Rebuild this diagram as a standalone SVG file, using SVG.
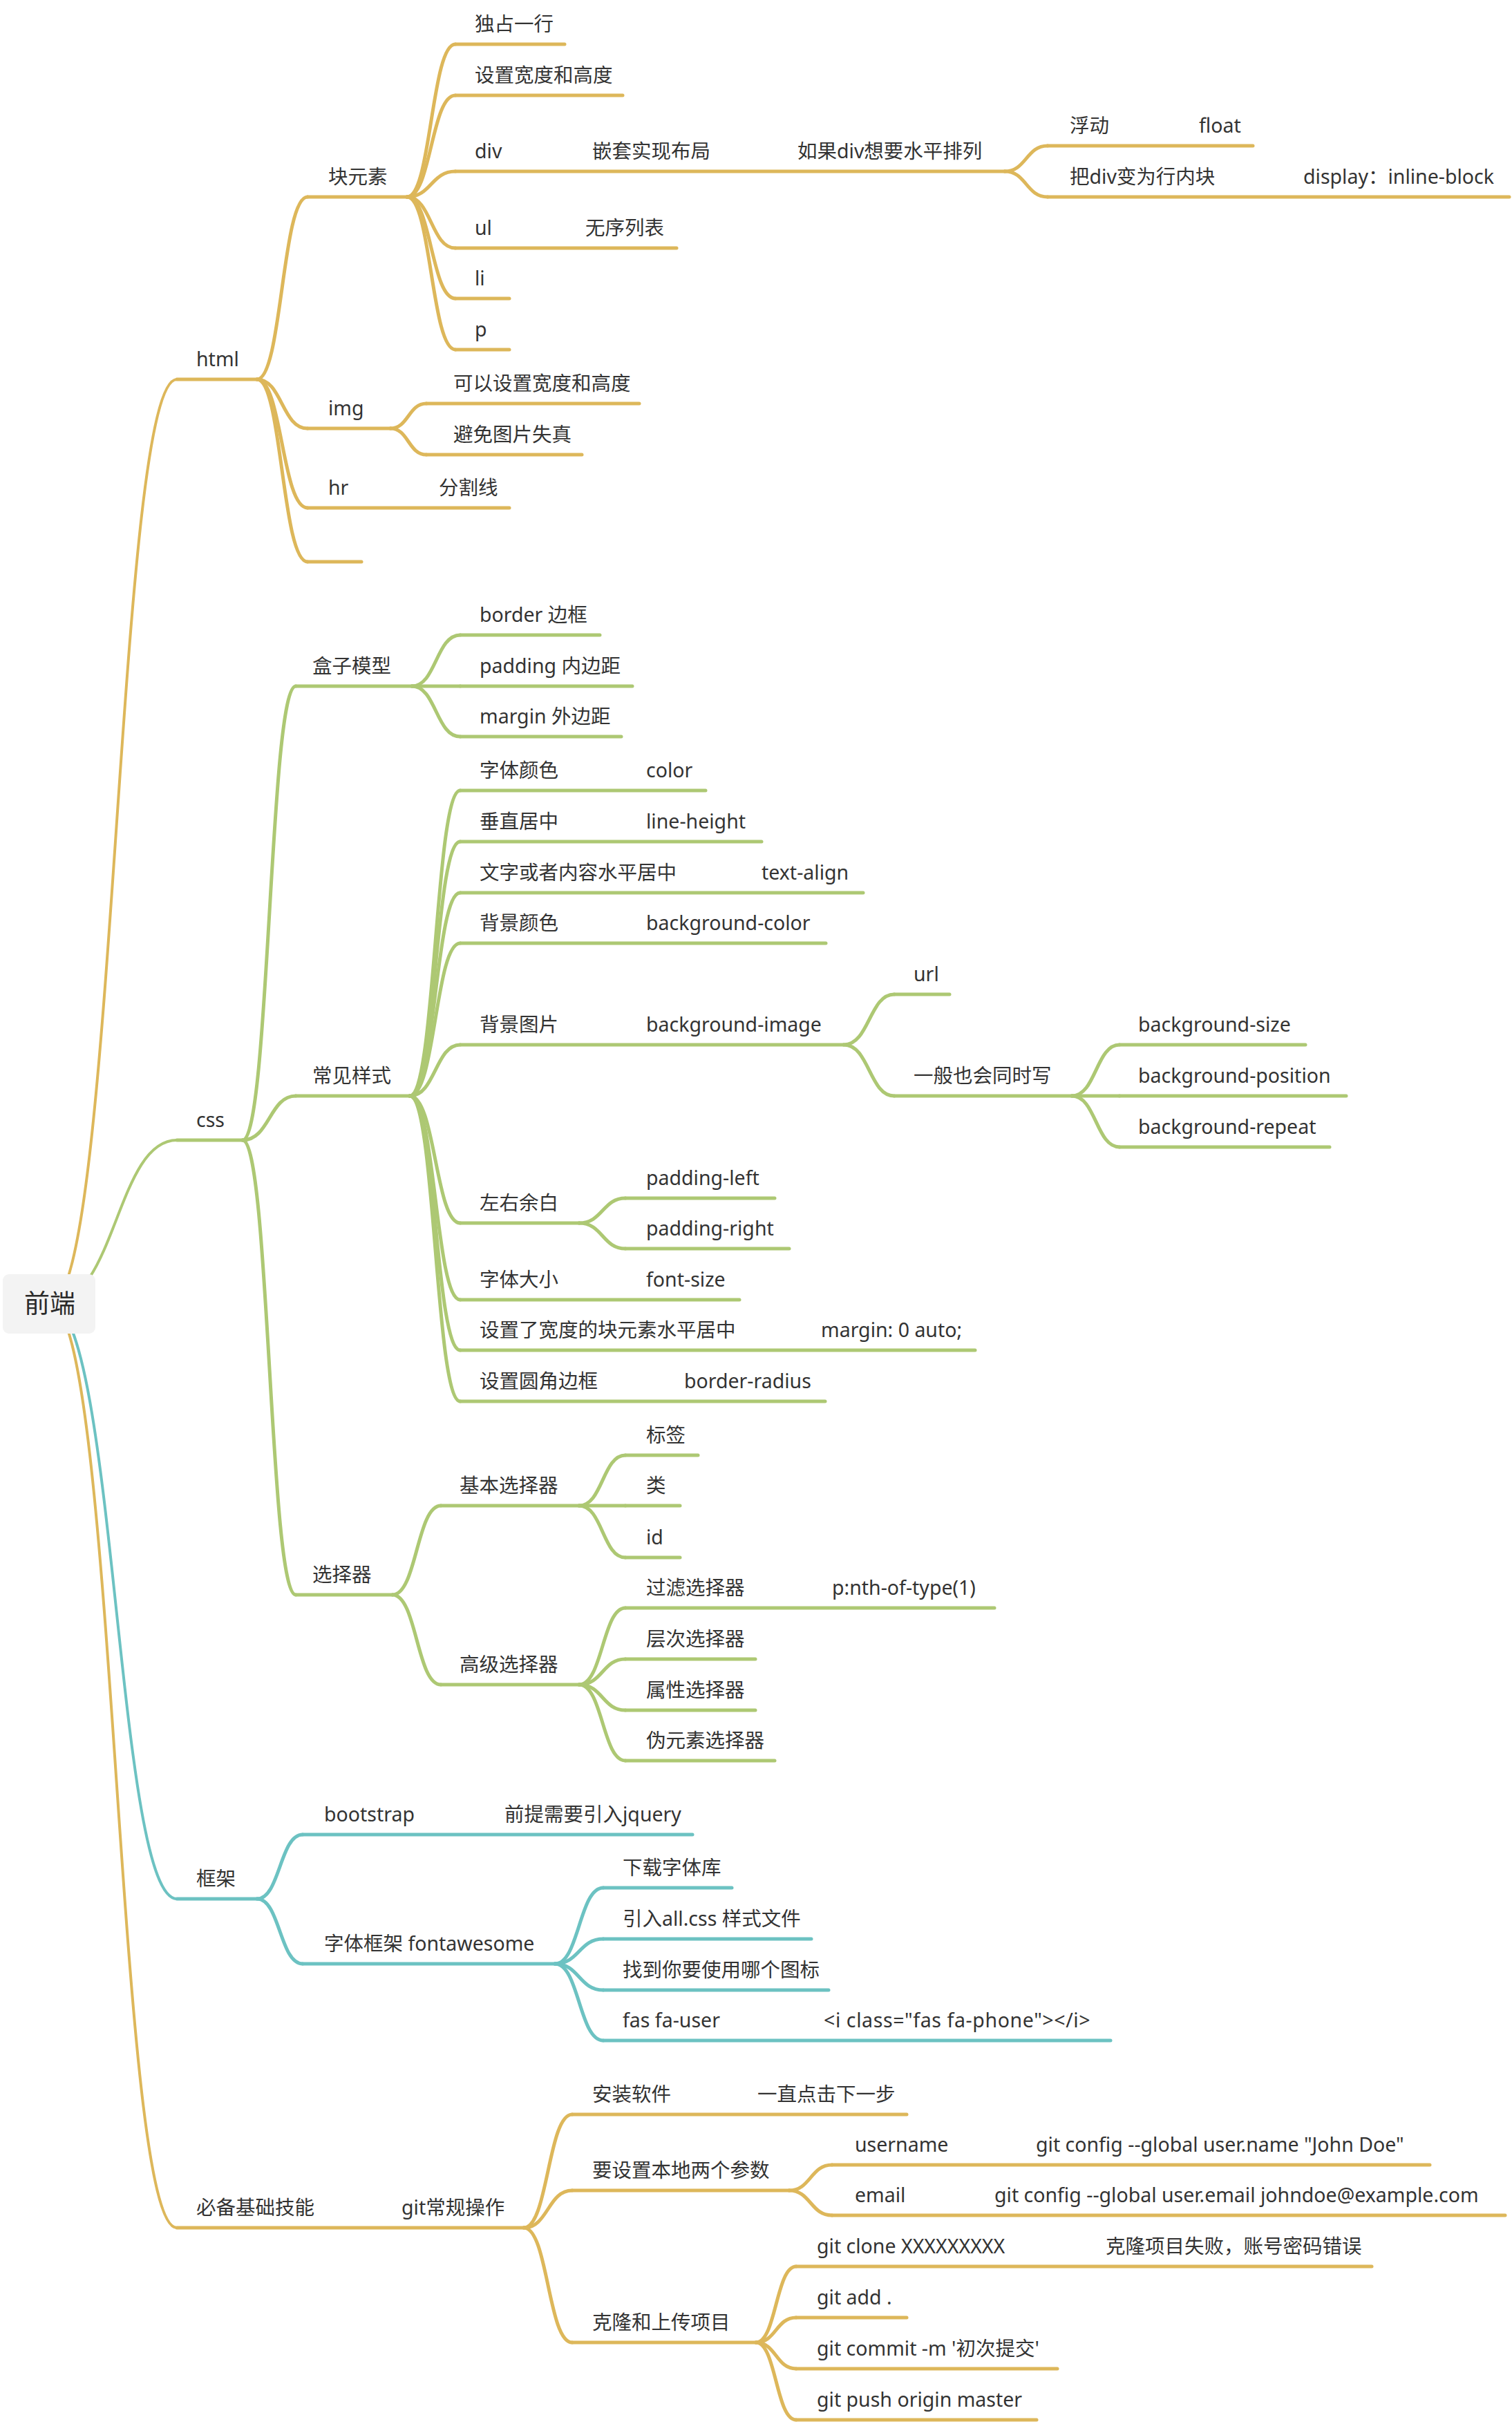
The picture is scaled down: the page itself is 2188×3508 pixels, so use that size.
<svg xmlns="http://www.w3.org/2000/svg" width="2188" height="3508" viewBox="0 0 2188 3508">
<style>
text{font-family:"Noto Sans","Noto Sans CJK SC",sans-serif;font-size:28.5px;fill:#333}
.root{font-size:37px;text-anchor:middle;fill:#2a2a2a}
path{fill:none;stroke-width:5;stroke-linecap:round}
.r{stroke-width:4}
.g{stroke:#DDB75A}
.v{stroke:#ADC873}
.c{stroke:#6CC2C2}
</style>
<rect width="2188" height="3508" fill="#ffffff"/>
<g id="connectors">
<path class="g r" d="M72,1887 C168,1887 168,549 256,549"/>
<path class="v r" d="M72,1887 C168,1887 168,1650 256,1650"/>
<path class="c r" d="M72,1887 C168,1887 168,2748 256,2748"/>
<path class="g r" d="M72,1887 C168,1887 168,3224 256,3224"/>
<!-- html -->
<path class="g" d="M372,549 C408,549 408,285 445,285"/>
<path class="g" d="M372,549 C408,549 408,620 445,620"/>
<path class="g" d="M372,549 C408,549 408,735 445,735"/>
<path class="g" d="M372,549 C408,549 408,813 445,813"/>
<path class="g" d="M589,285 C624,285 624,64 659,64"/>
<path class="g" d="M589,285 C624,285 624,138 659,138"/>
<path class="g" d="M589,285 C624,285 624,248 659,248"/>
<path class="g" d="M589,285 C624,285 624,359 659,359"/>
<path class="g" d="M589,285 C624,285 624,432 659,432"/>
<path class="g" d="M589,285 C624,285 624,506 659,506"/>
<path class="g" d="M1454,248 C1485,248 1485,211 1516,211"/>
<path class="g" d="M1454,248 C1485,248 1485,285 1516,285"/>
<path class="g" d="M565,620 C591,620 591,584 617,584"/>
<path class="g" d="M565,620 C591,620 591,658 617,658"/>
<!-- css -->
<path class="v" d="M351,1650 C390,1650 390,993 428,993"/>
<path class="v" d="M351,1650 C390,1650 390,1586 428,1586"/>
<path class="v" d="M351,1650 C390,1650 390,2308 428,2308"/>
<path class="v" d="M596,993 C631,993 631,919 666,919"/>
<path class="v" d="M596,993 L666,993"/>
<path class="v" d="M596,993 C631,993 631,1066 666,1066"/>
<path class="v" d="M593,1586 C630,1586 630,1144 666,1144"/>
<path class="v" d="M593,1586 C630,1586 630,1218 666,1218"/>
<path class="v" d="M593,1586 C630,1586 630,1292 666,1292"/>
<path class="v" d="M593,1586 C630,1586 630,1365 666,1365"/>
<path class="v" d="M593,1586 C630,1586 630,1512 666,1512"/>
<path class="v" d="M593,1586 C630,1586 630,1770 666,1770"/>
<path class="v" d="M593,1586 C630,1586 630,1881 666,1881"/>
<path class="v" d="M593,1586 C630,1586 630,1954 666,1954"/>
<path class="v" d="M593,1586 C630,1586 630,2028 666,2028"/>
<path class="v" d="M1221,1512 C1258,1512 1258,1439 1294,1439"/>
<path class="v" d="M1221,1512 C1258,1512 1258,1586 1294,1586"/>
<path class="v" d="M1551,1586 C1586,1586 1586,1512 1620,1512"/>
<path class="v" d="M1551,1586 L1620,1586"/>
<path class="v" d="M1551,1586 C1586,1586 1586,1660 1620,1660"/>
<path class="v" d="M838,1770 C872,1770 872,1734 905,1734"/>
<path class="v" d="M838,1770 C872,1770 872,1807 905,1807"/>
<path class="v" d="M568,2308 C603,2308 603,2179 638,2179"/>
<path class="v" d="M568,2308 C603,2308 603,2438 638,2438"/>
<path class="v" d="M838,2179 C872,2179 872,2106 905,2106"/>
<path class="v" d="M838,2179 L905,2179"/>
<path class="v" d="M838,2179 C872,2179 872,2254 905,2254"/>
<path class="v" d="M838,2438 C872,2438 872,2327 905,2327"/>
<path class="v" d="M838,2438 C872,2438 872,2401 905,2401"/>
<path class="v" d="M838,2438 C872,2438 872,2475 905,2475"/>
<path class="v" d="M838,2438 C872,2438 872,2548 905,2548"/>
<!-- 框架 -->
<path class="c" d="M372,2748 C405,2748 405,2655 438,2655"/>
<path class="c" d="M372,2748 C405,2748 405,2842 438,2842"/>
<path class="c" d="M803,2842 C838,2842 838,2732 873,2732"/>
<path class="c" d="M803,2842 C838,2842 838,2806 873,2806"/>
<path class="c" d="M803,2842 C838,2842 838,2880 873,2880"/>
<path class="c" d="M803,2842 C838,2842 838,2953 873,2953"/>
<!-- 必备 -->
<path class="g" d="M758,3224 C793,3224 793,3060 828,3060"/>
<path class="g" d="M758,3224 C793,3224 793,3170 828,3170"/>
<path class="g" d="M758,3224 C793,3224 793,3390 828,3390"/>
<path class="g" d="M1142,3170 C1173,3170 1173,3133 1204,3133"/>
<path class="g" d="M1142,3170 C1173,3170 1173,3206 1204,3206"/>
<path class="g" d="M1094,3390 C1123,3390 1123,3280 1152,3280"/>
<path class="g" d="M1094,3390 C1123,3390 1123,3354 1152,3354"/>
<path class="g" d="M1094,3390 C1123,3390 1123,3428 1152,3428"/>
<path class="g" d="M1094,3390 C1123,3390 1123,3502 1152,3502"/>
</g>

<g id="root"><rect x="4" y="1844" width="134" height="86" rx="9" fill="#F3F3F3"/><text class="root" x="72" y="1900">前端</text></g>

<!-- html branch -->
<g id="n-html"><path class="g" d="M256,549 H372"/><text x="284" y="530">html</text></g>
<g id="n-block"><path class="g" d="M445,285 H589"/><text x="475" y="266">块元素</text></g>
<g id="n-block-1"><path class="g" d="M659,64 H817"/><text x="687" y="45">独占一行</text></g>
<g id="n-block-2"><path class="g" d="M659,138 H901"/><text x="687" y="119">设置宽度和高度</text></g>
<g id="n-div"><path class="g" d="M659,248 H1454"/><text x="687" y="229">div</text><text x="857" y="229">嵌套实现布局</text><text x="1154" y="229">如果div想要水平排列</text></g>
<g id="n-float"><path class="g" d="M1516,211 H1813"/><text x="1548" y="192">浮动</text><text x="1735" y="192">float</text></g>
<g id="n-inline-block"><path class="g" d="M1516,285 H2184"/><text x="1548" y="266">把div变为行内块</text><text x="1886" y="266">display：inline-block</text></g>
<g id="n-ul"><path class="g" d="M659,359 H979"/><text x="687" y="340">ul</text><text x="847" y="340">无序列表</text></g>
<g id="n-li"><path class="g" d="M659,432 H737"/><text x="687" y="413">li</text></g>
<g id="n-p"><path class="g" d="M659,506 H737"/><text x="687" y="487">p</text></g>
<g id="n-img"><path class="g" d="M445,620 H565"/><text x="475" y="601">img</text></g>
<g id="n-img-1"><path class="g" d="M617,584 H925"/><text x="656" y="565">可以设置宽度和高度</text></g>
<g id="n-img-2"><path class="g" d="M617,658 H842"/><text x="656" y="639">避免图片失真</text></g>
<g id="n-hr"><path class="g" d="M445,735 H737"/><text x="475" y="716">hr</text><text x="635" y="716">分割线</text></g>
<g id="n-empty"><path class="g" d="M445,813 H523"/></g>

<!-- css branch -->
<g id="n-css"><path class="v" d="M256,1650 H351"/><text x="284" y="1631">css</text></g>
<g id="n-box"><path class="v" d="M428,993 H596"/><text x="452" y="974">盒子模型</text></g>
<g id="n-border"><path class="v" d="M666,919 H868"/><text x="694" y="900">border 边框</text></g>
<g id="n-padding"><path class="v" d="M666,993 H915"/><text x="694" y="974">padding 内边距</text></g>
<g id="n-margin"><path class="v" d="M666,1066 H899"/><text x="694" y="1047">margin 外边距</text></g>
<g id="n-common"><path class="v" d="M428,1586 H593"/><text x="452" y="1567">常见样式</text></g>
<g id="n-color"><path class="v" d="M666,1144 H1021"/><text x="694" y="1125">字体颜色</text><text x="935" y="1125">color</text></g>
<g id="n-lineheight"><path class="v" d="M666,1218 H1102"/><text x="694" y="1199">垂直居中</text><text x="935" y="1199">line-height</text></g>
<g id="n-textalign"><path class="v" d="M666,1292 H1249"/><text x="694" y="1273">文字或者内容水平居中</text><text x="1102" y="1273">text-align</text></g>
<g id="n-bgcolor"><path class="v" d="M666,1365 H1195"/><text x="694" y="1346">背景颜色</text><text x="935" y="1346">background-color</text></g>
<g id="n-bgimage"><path class="v" d="M666,1512 H1221"/><text x="694" y="1493">背景图片</text><text x="935" y="1493">background-image</text></g>
<g id="n-url"><path class="v" d="M1294,1439 H1374"/><text x="1322" y="1420">url</text></g>
<g id="n-together"><path class="v" d="M1294,1586 H1551"/><text x="1322" y="1567">一般也会同时写</text></g>
<g id="n-bgsize"><path class="v" d="M1620,1512 H1889"/><text x="1647" y="1493">background-size</text></g>
<g id="n-bgpos"><path class="v" d="M1620,1586 H1948"/><text x="1647" y="1567">background-position</text></g>
<g id="n-bgrepeat"><path class="v" d="M1620,1660 H1924"/><text x="1647" y="1641">background-repeat</text></g>
<g id="n-lr"><path class="v" d="M666,1770 H838"/><text x="694" y="1751">左右余白</text></g>
<g id="n-pl"><path class="v" d="M905,1734 H1121"/><text x="935" y="1715">padding-left</text></g>
<g id="n-pr"><path class="v" d="M905,1807 H1142"/><text x="935" y="1788">padding-right</text></g>
<g id="n-fontsize"><path class="v" d="M666,1881 H1070"/><text x="694" y="1862">字体大小</text><text x="935" y="1862">font-size</text></g>
<g id="n-center"><path class="v" d="M666,1954 H1411"/><text x="694" y="1935">设置了宽度的块元素水平居中</text><text x="1188" y="1935">margin: 0 auto;</text></g>
<g id="n-radius"><path class="v" d="M666,2028 H1194"/><text x="694" y="2009">设置圆角边框</text><text x="990" y="2009">border-radius</text></g>
<g id="n-selector"><path class="v" d="M428,2308 H568"/><text x="452" y="2289">选择器</text></g>
<g id="n-basic"><path class="v" d="M638,2179 H838"/><text x="665" y="2160">基本选择器</text></g>
<g id="n-tag"><path class="v" d="M905,2106 H1010"/><text x="935" y="2087">标签</text></g>
<g id="n-class"><path class="v" d="M905,2179 H984"/><text x="935" y="2160">类</text></g>
<g id="n-id"><path class="v" d="M905,2254 H984"/><text x="935" y="2235">id</text></g>
<g id="n-adv"><path class="v" d="M638,2438 H838"/><text x="665" y="2419">高级选择器</text></g>
<g id="n-filter"><path class="v" d="M905,2327 H1439"/><text x="935" y="2308">过滤选择器</text><text x="1204" y="2308">p:nth-of-type(1)</text></g>
<g id="n-level"><path class="v" d="M905,2401 H1093"/><text x="935" y="2382">层次选择器</text></g>
<g id="n-attr"><path class="v" d="M905,2475 H1093"/><text x="935" y="2456">属性选择器</text></g>
<g id="n-pseudo"><path class="v" d="M905,2548 H1121"/><text x="935" y="2529">伪元素选择器</text></g>

<!-- 框架 branch -->
<g id="n-frame"><path class="c" d="M256,2748 H372"/><text x="284" y="2729">框架</text></g>
<g id="n-bootstrap"><path class="c" d="M438,2655 H1002"/><text x="469" y="2636">bootstrap</text><text x="730" y="2636">前提需要引入jquery</text></g>
<g id="n-fa"><path class="c" d="M438,2842 H803"/><text x="469" y="2823">字体框架 fontawesome</text></g>
<g id="n-fa-1"><path class="c" d="M873,2732 H1059"/><text x="901" y="2713">下载字体库</text></g>
<g id="n-fa-2"><path class="c" d="M873,2806 H1174"/><text x="901" y="2787">引入all.css 样式文件</text></g>
<g id="n-fa-3"><path class="c" d="M873,2880 H1199"/><text x="901" y="2861">找到你要使用哪个图标</text></g>
<g id="n-fa-4"><path class="c" d="M873,2953 H1607"/><text x="901" y="2934">fas fa-user</text><text x="1192" y="2934" letter-spacing="0.6">&lt;i class="fas fa-phone"&gt;&lt;/i&gt;</text></g>

<!-- 必备基础技能 branch -->
<g id="n-skills"><path class="g" d="M256,3224 H758"/><text x="284" y="3205">必备基础技能</text><text x="581" y="3205">git常规操作</text></g>
<g id="n-install"><path class="g" d="M828,3060 H1312"/><text x="857" y="3041">安装软件</text><text x="1096" y="3041">一直点击下一步</text></g>
<g id="n-params"><path class="g" d="M828,3170 H1142"/><text x="857" y="3151">要设置本地两个参数</text></g>
<g id="n-username"><path class="g" d="M1204,3133 H2069"/><text x="1237" y="3114">username</text><text x="1499" y="3114">git config --global user.name "John Doe"</text></g>
<g id="n-email"><path class="g" d="M1204,3206 H2178"/><text x="1237" y="3187">email</text><text x="1439" y="3187">git config --global user.email johndoe@example.com</text></g>
<g id="n-clone"><path class="g" d="M828,3390 H1094"/><text x="857" y="3371">克隆和上传项目</text></g>
<g id="n-git-clone"><path class="g" d="M1152,3280 H1985"/><text x="1182" y="3261">git clone XXXXXXXXX</text><text x="1600" y="3261">克隆项目失败，账号密码错误</text></g>
<g id="n-git-add"><path class="g" d="M1152,3354 H1312"/><text x="1182" y="3335">git add .</text></g>
<g id="n-git-commit"><path class="g" d="M1152,3428 H1530"/><text x="1182" y="3409">git commit -m '初次提交'</text></g>
<g id="n-git-push"><path class="g" d="M1152,3502 H1500"/><text x="1182" y="3483">git push origin master</text></g>
</svg>
